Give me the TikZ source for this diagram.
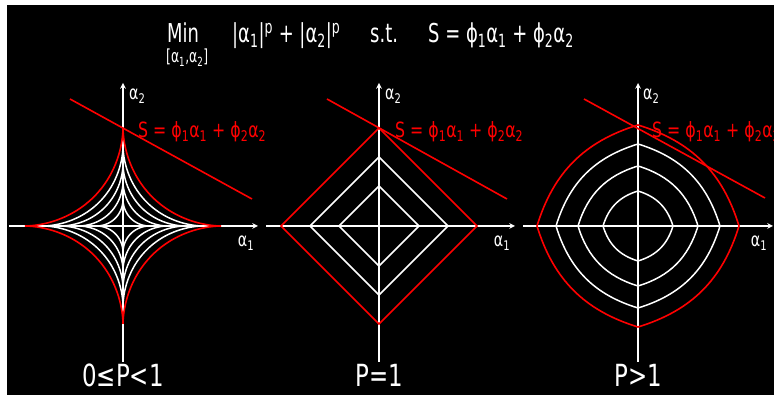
\documentclass[tikz,border=0pt]{standalone}
\usepackage{fontspec}
\setmainfont[FakeStretch=0.75]{DejaVu Sans}
\newfontfamily\titlefont[FakeStretch=0.69]{DejaVu Sans}
\usetikzlibrary{positioning}

\begin{document}
\begin{tikzpicture}[
    x=1pt, y=1pt,
    axis/.style={->, >=stealth, white, line width=1.5pt},
    curve/.style={white, line width=1.5pt},
    bound/.style={red, line width=1.6pt},
    axlabel/.style={white, inner sep=0pt, font=\fontsize{19}{19}\selectfont},
    eqlabel/.style={red, inner sep=0pt, anchor=west, font=\fontsize{21}{21}\selectfont},
    caption/.style={white, inner sep=0pt, font=\fontsize{30.5}{30.5}\selectfont},
    title/.style={white, inner sep=0pt, anchor=base west, font=\titlefont\fontsize{26}{26}\selectfont},
]
% Frame
\clip (0,0) rectangle (774,395);
\fill[white] (0,0) rectangle (774,395);
\fill[black] (7,0) rectangle (774,390);

% Title
\node[title] (min) at (167,352) {Min};
\node[white, inner sep=0pt, anchor=north west, font=\titlefont\fontsize{18}{18}\selectfont] (minarg) at (166,346) {[α\textsubscript{1},α\textsubscript{2}]};
\node[title] (cost) at (232,352) {|α\textsubscript{1}|\textsuperscript{p} + |α\textsubscript{2}|\textsuperscript{p}};
\node[title] (st) at (370,352) {s.t.};
\node[title] (constr) at (428,352) {S = ϕ\textsubscript{1}α\textsubscript{1} + ϕ\textsubscript{2}α\textsubscript{2}};

% Left: 0 <= p < 1
\begin{scope}[shift={(123,169)}]
\draw[axis] (-114,0) -- (135,0);
\draw[axis] (0,-136) -- (0,143);
\foreach \r in {26,44,62,80}
  \draw[curve] plot[domain=0:360, samples=241, variable=\t]
    ({\r*cos(\t)*cos(\t)*cos(\t)*sqrt(abs(cos(\t)))}, {\r*sin(\t)*sin(\t)*sin(\t)*sqrt(abs(sin(\t)))});
\draw[bound] plot[domain=0:360, samples=241, variable=\t]
    ({98*cos(\t)*cos(\t)*cos(\t)*sqrt(abs(cos(\t)))}, {98*sin(\t)*sin(\t)*sin(\t)*sqrt(abs(sin(\t)))});
\draw[bound] (-53,127) -- (129,27);
\node[eqlabel] (lbla) at (15,94) {S = ϕ\textsubscript{1}α\textsubscript{1} + ϕ\textsubscript{2}α\textsubscript{2}};
\node[axlabel, anchor=west] (ya) at (6,130) {α\textsubscript{2}};
\node[axlabel] (xa) at (123,-17) {α\textsubscript{1}};
\node[caption] (capa) at (0,-149) {0≤P<1};
\end{scope}

% Middle: p = 1
\begin{scope}[shift={(379,169)}]
\draw[axis] (-113,0) -- (136,0);
\draw[axis] (0,-136) -- (0,143);
\foreach \r in {40,69}
  \draw[curve] (\r,0) -- (0,\r) -- (-\r,0) -- (0,-\r) -- cycle;
\draw[bound] (98,0) -- (0,98) -- (-98,0) -- (0,-98) -- cycle;
\draw[bound] (-52,127) -- (128,27);
\node[eqlabel] (lblb) at (16,94) {S = ϕ\textsubscript{1}α\textsubscript{1} + ϕ\textsubscript{2}α\textsubscript{2}};
\node[axlabel, anchor=west] (yb) at (6,130) {α\textsubscript{2}};
\node[axlabel] (xb) at (123,-17) {α\textsubscript{1}};
\node[caption] (capb) at (0,-149) {P=1};
\end{scope}

% Right: p > 1
\begin{scope}[shift={(638,169)}]
\draw[axis] (-115,0) -- (135,0);
\draw[axis] (0,-136) -- (0,143);
\foreach \r in {35,60,82}
  \draw[curve] (\r,0) to[bend right=28] (0,\r) to[bend right=28] (-\r,0)
    to[bend right=28] (0,-\r) to[bend right=28] cycle;
\draw[bound] (101,0) to[bend right=28] (0,101) to[bend right=28] (-101,0)
    to[bend right=28] (0,-101) to[bend right=28] cycle;
\draw[bound] (-54,127) -- (127,28);
\node[eqlabel] (lblc) at (14,94) {S = ϕ\textsubscript{1}α\textsubscript{1} + ϕ\textsubscript{2}α\textsubscript{2}};
\node[axlabel, anchor=west] (yc) at (5,130) {α\textsubscript{2}};
\node[axlabel] (xc) at (121,-17) {α\textsubscript{1}};
\node[caption] (capc) at (0,-149) {P>1};
\end{scope}
\end{tikzpicture}
\end{document}
